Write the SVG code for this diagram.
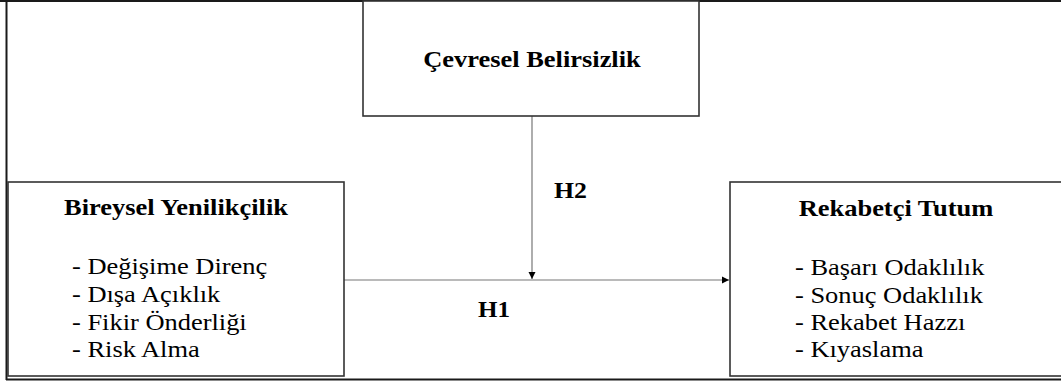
<svg xmlns="http://www.w3.org/2000/svg" width="1061" height="383" viewBox="0 0 1061 383">
<style>
.frame{stroke:#1a1a1a;stroke-width:2;fill:none}
.box{fill:#fff;stroke:#333;stroke-width:1.6}
.title{font-family:"Liberation Serif","Times New Roman",serif;font-weight:bold;font-size:23px;fill:#000;text-anchor:middle}
.item{font-family:"Liberation Serif","Times New Roman",serif;font-size:23px;fill:#000}
.hl{font-family:"Liberation Serif","Times New Roman",serif;font-weight:bold;font-size:24px;fill:#000}
.conn{stroke:#777;stroke-width:1.2;fill:none}
</style>
<defs>
<marker id="arr" markerWidth="8" markerHeight="8" refX="7" refY="4" orient="auto" markerUnits="userSpaceOnUse">
<path d="M0,0.5 L7,4 L0,7.5 Z" fill="#000"/>
</marker>
</defs>
<rect width="1061" height="383" fill="#fff"/>
<g id="frame">
<line class="frame" x1="0" y1="1" x2="1061" y2="1"/>
<line class="frame" x1="6.5" y1="0" x2="6.5" y2="380"/>
<line class="frame" x1="6" y1="379.5" x2="1061" y2="379.5"/>
</g>
<g id="connectors">
<line class="conn" x1="344" y1="280" x2="729" y2="280" marker-end="url(#arr)"/>
<line class="conn" x1="532" y1="116" x2="532" y2="279" marker-end="url(#arr)"/>
<text class="hl" x="554" y="198" textLength="33" lengthAdjust="spacingAndGlyphs">H2</text>
<text class="hl" x="478" y="317" textLength="32" lengthAdjust="spacingAndGlyphs">H1</text>
</g>
<g id="cevresel">
<rect class="box" x="363" y="1" width="336" height="115"/>
<g transform="translate(532,0) scale(1.15,1)"><text class="title" x="0" y="67">Çevresel Belirsizlik</text></g>
</g>
<g id="bireysel">
<rect class="box" x="8" y="182" width="336" height="194"/>
<g transform="translate(176,0) scale(1.15,1)"><text class="title" x="0" y="215">Bireysel Yenilikçilik</text></g>
<g transform="translate(72,0) scale(1.15,1)">
<text class="item" x="0" y="274">- Değişime Direnç</text>
<text class="item" x="0" y="302">- Dışa Açıklık</text>
<text class="item" x="0" y="330">- Fikir Önderliği</text>
<text class="item" x="0" y="357">- Risk Alma</text>
</g>
</g>
<g id="rekabetci">
<rect class="box" x="730" y="182" width="340" height="194"/>
<g transform="translate(896,0) scale(1.15,1)"><text class="title" x="0" y="216">Rekabetçi Tutum</text></g>
<g transform="translate(795,0) scale(1.15,1)">
<text class="item" x="0" y="275">- Başarı Odaklılık</text>
<text class="item" x="0" y="303">- Sonuç Odaklılık</text>
<text class="item" x="0" y="330">- Rekabet Hazzı</text>
<text class="item" x="0" y="357">- Kıyaslama</text>
</g>
</g>
</svg>
